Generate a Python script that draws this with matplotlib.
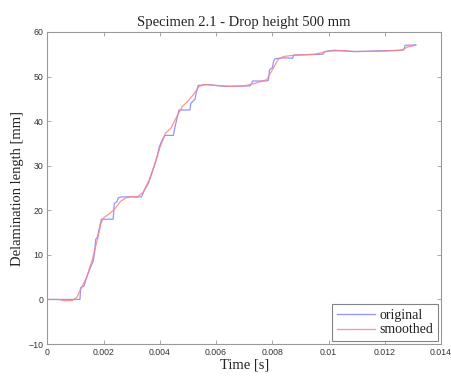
import matplotlib
matplotlib.use('Agg')
import matplotlib.pyplot as plt

# original (camera) measurement, step-like
t_orig = [0, 0.00116, 0.00118, 0.0013, 0.0014, 0.00152, 0.00163, 0.00168, 0.00172, 0.00178,
          0.00185, 0.00192, 0.00234, 0.00238, 0.00248, 0.00252, 0.00264, 0.00335, 0.00345,
          0.00359, 0.0037, 0.00383, 0.0039, 0.00397, 0.00403, 0.0041, 0.00418, 0.00448,
          0.00455, 0.00468, 0.00507, 0.0051, 0.00525, 0.0053, 0.00536, 0.0057, 0.0063,
          0.0072, 0.00727, 0.0073, 0.0078, 0.00786, 0.0079, 0.008, 0.00805, 0.0081, 0.00838,
          0.00872, 0.00876, 0.0098, 0.00985, 0.0102, 0.0109, 0.0126, 0.01268, 0.01272, 0.0131]
L_orig = [0, 0, 2.6, 3.0, 5, 7, 8.6, 10.5, 13.5, 14,
          16, 18, 18, 21.5, 22, 22.8, 23, 23, 24.5,
          26, 28, 30.5, 32, 34, 35, 36, 36.8, 36.8,
          39, 42.5, 42.5, 44, 44.9, 46.5, 48, 48.2, 47.8,
          47.9, 48.5, 49, 49, 49.2, 51.5, 52, 53.5, 54, 54.2,
          54.1, 54.8, 55, 55.6, 55.9, 55.6, 55.9, 56, 57, 57.1]

# smoothed curve
t_smooth = [0, 0.0004, 0.0006, 0.0009, 0.00105, 0.0012, 0.0014, 0.0016, 0.0018, 0.0019,
            0.002, 0.0022, 0.0024, 0.0026, 0.0028, 0.003, 0.0032, 0.0034, 0.0036, 0.0038,
            0.004, 0.0042, 0.0044, 0.0046, 0.0048, 0.005, 0.0052, 0.0054, 0.0056, 0.006,
            0.0065, 0.007, 0.0074, 0.0078, 0.008, 0.0082, 0.0084, 0.0088, 0.0095, 0.01,
            0.0105, 0.011, 0.012, 0.0126, 0.0128, 0.0131]
L_smooth = [0, 0, -0.3, -0.2, 0.5, 2.5, 5, 9, 14, 17,
            18.3, 19.2, 20.3, 22, 22.8, 23.1, 23, 24, 26.5, 30,
            34, 37.3, 38.5, 41, 43.3, 44.5, 46, 47.8, 48.2, 48,
            47.8, 47.9, 48.5, 49.3, 51.5, 53.8, 54.5, 54.8, 55, 55.7,
            55.8, 55.6, 55.7, 55.9, 56.6, 57]

x_ticks = [0, 0.002, 0.004, 0.006, 0.008, 0.01, 0.012, 0.014]
x_ticklabels = ['0', '0.002', '0.004', '0.006', '0.008', '0.01', '0.012', '0.014']
y_ticks = [-10, 0, 10, 20, 30, 40, 50, 60]

serif = 'Liberation Serif'
sans = 'Liberation Sans'

fig = plt.figure(figsize=(4.51, 3.76), dpi=100)
ax = fig.add_axes([0.105, 0.085, 0.873, 0.83])

ax.plot(t_orig, L_orig, color='#8080ff', lw=0.9, alpha=0.85, label='original')
ax.plot(t_smooth, L_smooth, color='#ff8080', lw=0.9, alpha=0.85, label='smoothed')

ax.set_xlim(0, 0.014)
ax.set_ylim(-10, 60)
ax.set_xticks(x_ticks)
ax.set_xticklabels(x_ticklabels)
ax.set_yticks(y_ticks)

for s in ax.spines.values():
    s.set_color('#999999')
    s.set_linewidth(0.8)
ax.tick_params(direction='in', top=True, right=True, length=3, width=0.6,
               color='#999999', labelsize=6.3, labelcolor='#333333', pad=3)
for lab in ax.get_xticklabels() + ax.get_yticklabels():
    lab.set_family(sans)

ax.set_title('Specimen 2.1 - Drop height 500 mm', family=serif, fontsize=10.5, pad=4, color='#222222')
ax.set_xlabel('Time [s]', family=serif, fontsize=10.5, labelpad=1, color='#222222')
ax.set_ylabel('Delamination length [mm]', family=serif, fontsize=10.5, labelpad=3, color='#222222')

leg = ax.legend(loc='lower right', prop={'family': serif, 'size': 10}, fancybox=False,
                edgecolor='#666666', handlelength=2.8, borderaxespad=0.2,
                labelspacing=0.1, borderpad=0.35, handletextpad=0.3)
leg.get_frame().set_linewidth(0.8)
for txt in leg.get_texts():
    txt.set_color('#222222')

fig.savefig('out.png', dpi=100)
